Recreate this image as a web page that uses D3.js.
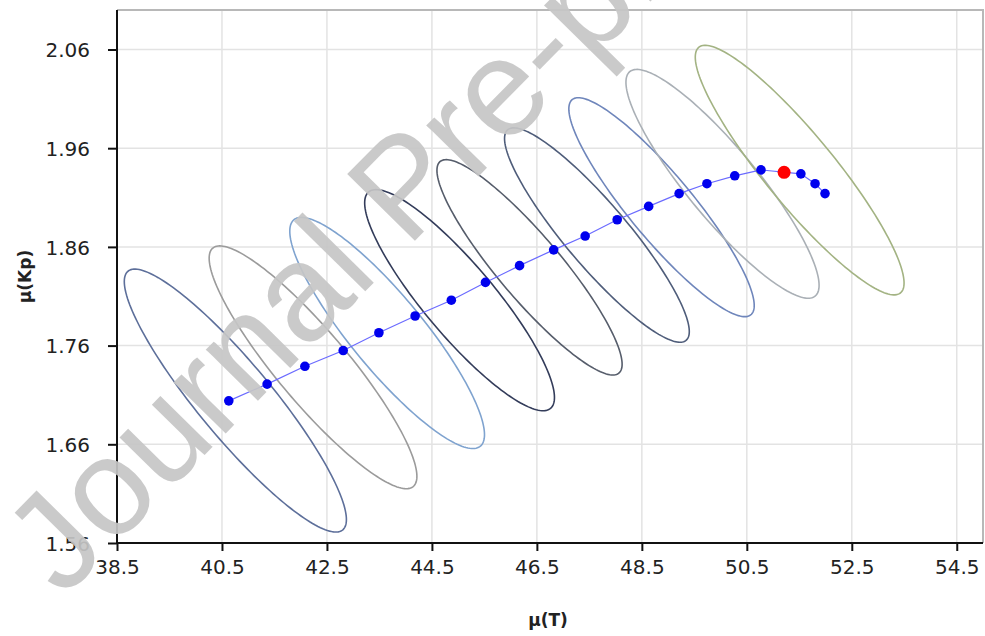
<!DOCTYPE html>
<html>
<head>
<meta charset="utf-8">
<script src="https://cdn.jsdelivr.net/npm/d3@7"></script>
<style>
  html, body { margin: 0; padding: 0; background: #fff; }
  svg { display: block; }
</style>
</head>
<body>
<svg id="chart" width="985" height="636"></svg>
<script>
// Path of mean estimates μ(T), μ(Kp)
const muT  = [40.63, 41.36, 42.08, 42.81, 43.49, 44.18, 44.87, 45.52, 46.17, 46.82,
              47.42, 48.03, 48.63, 49.21, 49.74, 50.27, 50.77, 51.53, 51.80, 51.99];
const muKp = [1.704, 1.721, 1.739, 1.755, 1.773, 1.790, 1.806, 1.824, 1.841, 1.857,
              1.871, 1.8875, 1.901, 1.914, 1.924, 1.932, 1.938, 1.934, 1.924, 1.914];

// Highlighted optimum
const optT  = [51.21];
const optKp = [1.9355];

// Confidence ellipses: centre, half-extent along each axis, correlation
const ellT     = [40.755, 42.235, 43.647, 45.027, 46.36, 47.644, 48.875, 50.037, 51.507];
const ellKp    = [1.7043, 1.738, 1.7728, 1.806, 1.8393, 1.872, 1.9002, 1.9239, 1.9378];
const ellHalfT = [2.116, 1.979, 1.855, 1.808, 1.764, 1.760, 1.766, 1.840, 1.989];
const ellHalfK = [0.1332, 0.1230, 0.1171, 0.1120, 0.1091, 0.1086, 0.1109, 0.1159, 0.1264];
const ellRho   = [-0.905, -0.898, -0.88, -0.88, -0.90, -0.90, -0.898, -0.887, -0.905];
const ellColor = ["#5d6f9a", "#9b9b9b", "#7fa3cf", "#333c5a", "#565d6b",
                  "#4f5d7a", "#6f86bb", "#aab0b6", "#a3b383"];

// Axis ticks
const xTicks = [38.5, 40.5, 42.5, 44.5, 46.5, 48.5, 50.5, 52.5, 54.5];
const yTicks = [1.56, 1.66, 1.76, 1.86, 1.96, 2.06];

const svg = d3.select("#chart");
const pLeft = 117, pRight = 983, pTop = 10, pBottom = 543;

const x = d3.scaleLinear().domain([38.5, 55]).range([pLeft, pRight]);
const y = d3.scaleLinear().domain([1.56, 2.10]).range([pBottom, pTop]);

const FONT = "'DejaVu Sans', Verdana, sans-serif";

// grid
const grid = svg.append("g");
grid.selectAll("line.gx").data(xTicks.slice(1)).join("line")
  .attr("x1", d => x(d)).attr("x2", d => x(d))
  .attr("y1", pTop).attr("y2", pBottom)
  .attr("stroke", "#e3e3e3").attr("stroke-width", 1.5);
grid.selectAll("line.gy").data(yTicks.slice(1)).join("line")
  .attr("x1", pLeft).attr("x2", pRight)
  .attr("y1", d => y(d)).attr("y2", d => y(d))
  .attr("stroke", "#e3e3e3").attr("stroke-width", 1.5);

// frame top / right
svg.append("path")
  .attr("d", `M${pLeft},${pTop}H${pRight}V${pBottom}`)
  .attr("fill", "none").attr("stroke", "#b8b8b8").attr("stroke-width", 2);

// ellipses
const ellipseLine = d3.line().x(d => x(d[0])).y(d => y(d[1])).curve(d3.curveLinearClosed);
const ellipses = ellT.map((cx, i) => {
  const pts = [];
  const s = Math.sqrt(1 - ellRho[i] * ellRho[i]);
  for (let k = 0; k < 180; k++) {
    const t = 2 * Math.PI * k / 180;
    pts.push([cx + ellHalfT[i] * Math.cos(t),
              ellKp[i] + ellHalfK[i] * (ellRho[i] * Math.cos(t) + s * Math.sin(t))]);
  }
  return pts;
});
svg.append("g").selectAll("path").data(ellipses).join("path")
  .attr("d", ellipseLine)
  .attr("fill", "none")
  .attr("stroke", (d, i) => ellColor[i])
  .attr("stroke-width", 1.6);

// mean path
const pathLine = d3.line().x((d, i) => x(muT[i])).y((d, i) => y(muKp[i]));
svg.append("path").datum(muT).attr("d", pathLine)
  .attr("fill", "none").attr("stroke", "#6b6bff").attr("stroke-width", 1.2);

svg.append("g").selectAll("circle").data(muT).join("circle")
  .attr("cx", d => x(d)).attr("cy", (d, i) => y(muKp[i]))
  .attr("r", 4.8).attr("fill", "#0000ee");

svg.append("g").selectAll("circle").data(optT).join("circle")
  .attr("cx", d => x(d)).attr("cy", (d, i) => y(optKp[i]))
  .attr("r", 6.5).attr("fill", "#ff0000");

// axes
const xAxis = d3.axisBottom(x).tickValues(xTicks).tickSize(8).tickSizeOuter(0)
  .tickFormat(d3.format(".1f"));
const gx = svg.append("g").attr("transform", `translate(0,${pBottom})`).call(xAxis);
gx.select(".domain").attr("d", `M${pLeft},0H${pRight}`).attr("stroke", "#111").attr("stroke-width", 2);
gx.selectAll(".tick line").attr("stroke", "#111").attr("stroke-width", 2);
gx.selectAll(".tick text").attr("font-family", FONT).attr("font-size", 20)
  .attr("fill", "#222").attr("dy", "1.0em");

const yAxis = d3.axisLeft(y).tickValues(yTicks).tickSize(9).tickSizeOuter(0)
  .tickFormat(d3.format(".2f"));
const gy = svg.append("g").attr("transform", `translate(${pLeft},0)`).call(yAxis);
gy.select(".domain").attr("d", `M0,${pTop}V${pBottom}`).attr("stroke", "#111").attr("stroke-width", 2);
gy.selectAll(".tick line").attr("stroke", "#111").attr("stroke-width", 2);
gy.selectAll(".tick text").attr("font-family", FONT).attr("font-size", 20)
  .attr("fill", "#222").attr("x", -27).attr("dy", "0.36em");

// axis titles
svg.append("text").attr("x", 548).attr("y", 626).attr("text-anchor", "middle")
  .attr("font-family", FONT).attr("font-size", 17).attr("font-weight", "bold")
  .attr("fill", "#222").text("μ(T)");
svg.append("text").attr("transform", `translate(31,${(pTop + pBottom) / 2}) rotate(-90)`)
  .attr("text-anchor", "middle")
  .attr("font-family", FONT).attr("font-size", 17).attr("font-weight", "bold")
  .attr("fill", "#222").text("μ(Kp)");

// watermark
svg.append("text")
  .attr("transform", "translate(63,599) rotate(-45.5)")
  .attr("font-family", "'Liberation Sans', Arial, sans-serif")
  .attr("font-size", 138)
  .attr("fill", "#c6c6c6").attr("fill-opacity", 0.92)
  .text("Journal Pre-proof");
</script>
</body>
</html>
